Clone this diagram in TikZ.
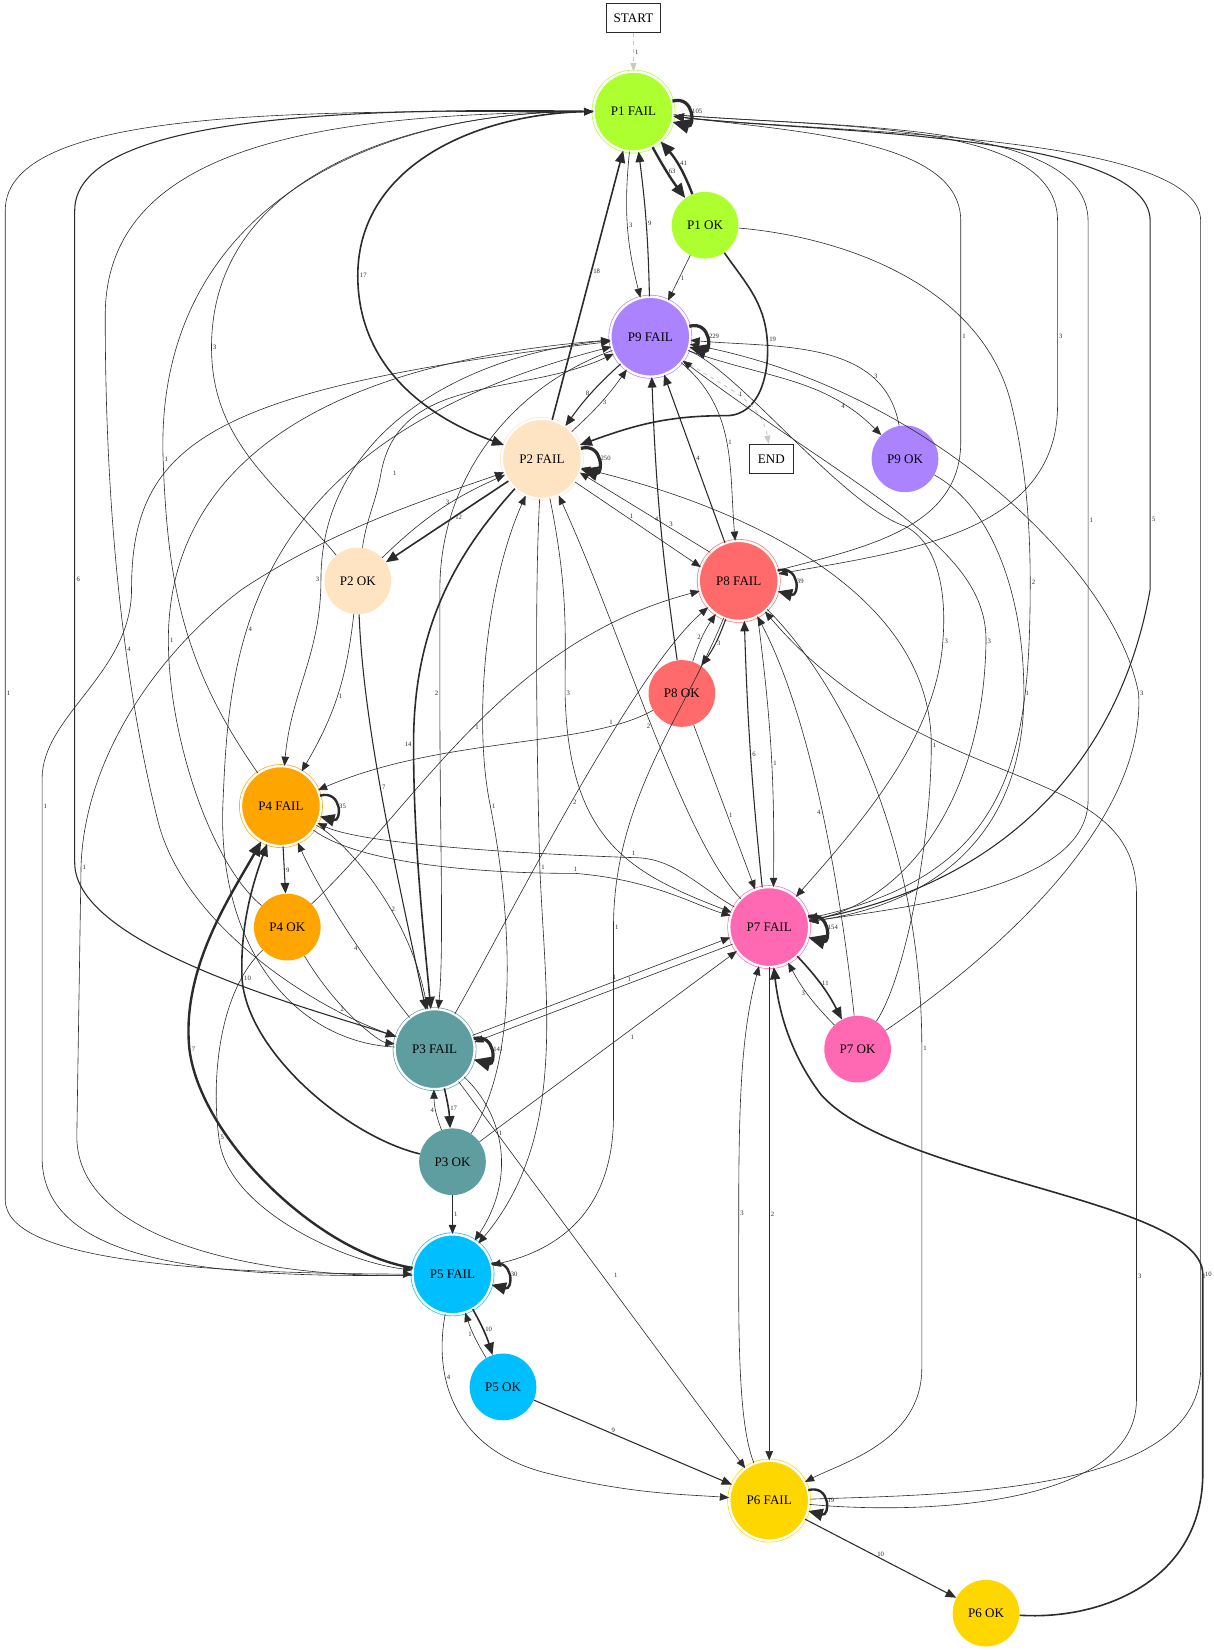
\documentclass[tikz,border=0pt]{standalone}
\usepackage{fontspec}
\setmainfont{Liberation Serif}
\usepackage{tikz}
\usetikzlibrary{arrows.meta,positioning}

\definecolor{pone}{HTML}{ADFF2F}
\definecolor{ptwo}{HTML}{FFE4C4}
\definecolor{pthree}{HTML}{5F9EA0}
\definecolor{pfour}{HTML}{FFA500}
\definecolor{pfive}{HTML}{00BFFF}
\definecolor{psix}{HTML}{FFD700}
\definecolor{pseven}{HTML}{FF69B4}
\definecolor{peight}{HTML}{FF6A6A}
\definecolor{pnine}{HTML}{AB82FF}
\definecolor{edgec}{HTML}{2B2B2B}
\definecolor{ghostc}{HTML}{C8C8C8}

\begin{document}
\begin{tikzpicture}[x=0.789pt, y=0.789pt,
    every node/.style={font=\fontsize{9.8}{11}\selectfont},
    fail/.style={circle, fill=#1, draw=#1, double=white, double distance=1.8pt,
      line width=0.5pt, minimum size=60pt, inner sep=0pt},
    ok/.style={circle, fill=#1, minimum size=50pt, inner sep=0pt},
    term/.style={draw=edgec, line width=0.6pt, minimum height=22pt, inner sep=2pt},
    lbl/.style={font=\fontsize{5}{6}\selectfont, text=edgec, inner sep=1pt},
    e/.style={draw=edgec, line width=0.45pt, -{Triangle[length=5.5pt 3, width=4.5pt 2.5]}},
    em/.style={e, line width=0.8pt},
    eb/.style={e, line width=1.2pt},
    eh/.style={e, line width=1.8pt},
    eloop/.style={e, line width=2.4pt},
    ghost/.style={draw=ghostc, dashed, line width=0.6pt, -{Triangle[length=6pt, width=4.5pt]}}
  ]
  \fill[white] (0,0) rectangle (1153,-1568);
  \useasboundingbox (0,0) rectangle (1153,-1568);

  % states
  \node[term, minimum width=40pt] (start) at (602,-17) {START};
  \node[fail=pone] (p1f) at (602,-106) {P1 FAIL};
  \node[ok=pone] (p1ok) at (670,-214) {P1 OK};
  \node[fail=pnine] (p9f) at (618,-320) {P9 FAIL};
  \node[ok=pnine] (p9ok) at (860,-436) {P9 OK};
  \node[term, minimum width=33pt] (endb) at (733,-436) {END};
  \node[fail=ptwo] (p2f) at (515,-436) {P2 FAIL};
  \node[ok=ptwo] (p2ok) at (340,-552) {P2 OK};
  \node[fail=peight] (p8f) at (702,-552) {P8 FAIL};
  \node[ok=peight] (p8ok) at (648,-659) {P8 OK};
  \node[fail=pfour] (p4f) at (267,-766) {P4 FAIL};
  \node[ok=pfour] (p4ok) at (273,-881) {P4 OK};
  \node[fail=pseven] (p7f) at (731,-881) {P7 FAIL};
  \node[fail=pthree] (p3f) at (413,-997) {P3 FAIL};
  \node[ok=pseven] (p7ok) at (815,-997) {P7 OK};
  \node[ok=pthree] (p3ok) at (430,-1104) {P3 OK};
  \node[fail=pfive] (p5f) at (430,-1211) {P5 FAIL};
  \node[ok=pfive] (p5ok) at (478,-1318) {P5 OK};
  \node[fail=psix] (p6f) at (731,-1426) {P6 FAIL};
  \node[ok=psix] (p6ok) at (937,-1533) {P6 OK};

  % self loops
  \draw[eloop] (p1f.15) .. controls +(15:22) and +(-15:22) .. node[lbl,right]{105} (p1f.-15);
  \draw[eloop] (p9f.15) .. controls +(15:22) and +(-15:22) .. node[lbl,right]{229} (p9f.-15);
  \draw[eloop] (p2f.15) .. controls +(15:22) and +(-15:22) .. node[lbl,right]{250} (p2f.-15);
  \draw[eh] (p8f.15) .. controls +(15:22) and +(-15:22) .. node[lbl,right]{39} (p8f.-15);
  \draw[eh] (p4f.15) .. controls +(15:22) and +(-15:22) .. node[lbl,right]{35} (p4f.-15);
  \draw[eloop] (p7f.15) .. controls +(15:22) and +(-15:22) .. node[lbl,right]{154} (p7f.-15);
  \draw[eloop] (p3f.15) .. controls +(15:22) and +(-15:22) .. node[lbl,right]{141} (p3f.-15);
  \draw[eh] (p5f.15) .. controls +(15:22) and +(-15:22) .. node[lbl,right]{30} (p5f.-15);
  \draw[eh] (p6f.15) .. controls +(15:22) and +(-15:22) .. node[lbl,right]{19} (p6f.-15);

  % top part
  \draw[ghost] (start) -- node[lbl,right]{1} (p1f);
  \draw[eh] (p1f) to[bend right=4] node[lbl,right,pos=.45]{63} (p1ok);
  \draw[eh] (p1ok) to[bend right=10] node[lbl,right,pos=.55]{41} (p1f);
  \draw[e] (p1f) to[bend right=10] node[lbl,right]{3} (p9f);
  \draw[em] (p9f) to[bend right=3] node[lbl,right]{9} (p1f);
  \draw[eb] (p2f) -- node[lbl,right,pos=.55]{18} (p1f);
  \draw[eb] (p1f) to[out=180,in=90] (340,-262) node[lbl,right]{17} to[out=-90,in=160] (p2f);
  \draw[e] (p1ok) -- node[lbl,right]{1} (p9f);
  \draw[eb] (p1ok) to[out=-55,in=95] (729,-322) node[lbl,right]{19} to[out=-85,in=0] (690,-395) to[out=180,in=20] (p2f);
  \draw[e] (p2ok) to[out=130,in=-90] (201,-330) node[lbl,right]{3} to[out=90,in=180] (p1f);
  \draw[e] (p8f) to[out=15,in=-90] (913,-420) -- (913,-320) node[lbl,right]{1} -- (913,-210) .. controls (913,-135) and (770,-126) .. (p1f);
  \draw[e] (p1f) .. controls (800,-122) and (1005,-115) .. (1005,-210) -- (1005,-320) node[lbl,right]{3} -- (1005,-385) to[out=-90,in=10] (p8f);
  \draw[e] (p1f) .. controls (800,-122) and (1034,-115) .. (1034,-210) -- (1034,-494) node[lbl,right]{1} -- (1034,-760) .. controls (1034,-840) and (880,-860) .. (p7f);
  \draw[em] (p7f) to[out=10,in=-100] (1093,-560) -- (1093,-494) node[lbl,right]{5} -- (1093,-210) .. controls (1093,-125) and (770,-126) .. (p1f);
  \draw[e] (p6f) .. controls (900,-1420) and (1141,-1420) .. (1141,-1300) -- (1141,-1213) node[lbl,right]{1} -- (1141,-210) .. controls (1141,-125) and (770,-126) .. (p1f);
  \draw[e] (p1ok) .. controls (800,-225) and (930,-270) .. (960,-380) .. controls (975,-440) and (979,-500) .. (979,-553) node[lbl,right]{2} .. controls (979,-720) and (960,-830) .. (p7f);

  % P9
  \draw[e] (p9f) to[out=-20,in=135] node[lbl,left,pos=.8]{4} (p9ok);
  \draw[e] (p9ok) to[out=100,in=-5] node[lbl,right,pos=.25]{3} (p9f);
  \draw[ghost] (p9f) to[out=-35,in=100] node[lbl,right,pos=.5]{1} (endb);
  \draw[em] (p9f) to[bend right=6] node[lbl,left]{8} (p2f);
  \draw[e] (p2f) to[bend right=6] node[lbl,right]{3} (p9f);
  \draw[e] (p2ok) to[out=82,in=-100] (362,-450) node[lbl,right=8pt]{1} to[out=80,in=205] (p9f);
  \draw[em] (p8f) -- node[lbl,right]{4} (p9f);
  \draw[e] (p9f) to[out=-40,in=95] node[lbl,right,pos=.5]{1} (p8f);
  \draw[em] (p8ok) to[bend left=3] node[lbl,left,pos=.5]{4} (p9f);
  \draw[e] (p9f) to[out=185,in=90] (305,-551) node[lbl,left]{3} to[out=-90,in=85] (p4f);
  \draw[e] (p9f) .. controls (480,-370) and (418,-460) .. (418,-560) -- (418,-659) node[lbl,left]{2} .. controls (418,-800) and (422,-900) .. (p3f);
  \draw[e] (p9f) .. controls (700,-350) and (800,-480) .. (860,-500) .. controls (890,-515) and (900,-560) .. (896,-609) node[lbl,right]{3} .. controls (890,-700) and (820,-780) .. (p7f);
  \draw[e] (p7f) .. controls (860,-860) and (935,-760) .. (937,-609) node[lbl,right]{3} .. controls (938,-520) and (820,-470) .. (p9f);
  \draw[e] (p9ok) .. controls (940,-480) and (973,-560) .. (973,-659) node[lbl,right]{1} .. controls (973,-800) and (880,-860) .. (p7f);
  \draw[e] (p7ok) .. controls (900,-940) and (1090,-800) .. (1082,-659) node[lbl,right]{3} .. controls (1060,-540) and (880,-370) .. (p9f);
  \draw[e] (p4ok) .. controls (200,-820) and (160,-700) .. (160,-608) node[lbl,right]{1} .. controls (160,-480) and (250,-350) .. (p9f);
  \draw[e] (p3f) .. controls (280,-990) and (205,-900) .. (212,-760) .. controls (218,-620) and (230,-420) .. node[lbl,right,pos=.35]{4} (p9f);
  \draw[e] (p5f) .. controls (200,-1215) and (40,-1200) .. (40,-1100) -- (40,-766) node[lbl,right]{1} -- (40,-740) .. controls (40,-680) and (125,-640) .. (125,-560) .. controls (125,-420) and (200,-370) .. (p9f);

  % P2
  \draw[e] (p2ok) to[bend left=10] node[lbl,left,pos=.6]{3} (p2f);
  \draw[eb] (p2f) -- node[lbl,right,pos=.45]{12} (p2ok);
  \draw[e] (p2f.-35) -- node[lbl,above,pos=.45]{1} (p8f.160);
  \draw[e] (p8f.135) -- node[lbl,above,pos=.3]{3} (p2f.-20);
  \draw[e] (p4f) to[out=125,in=-88] (155,-436) node[lbl,right]{1} to[out=92,in=180,looseness=1.1] (p1f);
  \draw[e] (p2ok) to[bend left=12] node[lbl,right,pos=.5]{1} (p4f);
  \draw[eb] (p2f) .. controls (430,-530) and (393,-600) .. (393,-707) node[lbl,left]{14} .. controls (393,-800) and (402,-880) .. (p3f);
  \draw[em] (p2ok) .. controls (345,-680) and (370,-800) .. node[lbl,right,pos=.5]{7} (p3f);
  \draw[e] (p3ok) .. controls (492,-1010) and (488,-880) .. (466,-766) node[lbl,right]{1} .. controls (450,-690) and (460,-560) .. (p2f);
  \draw[e] (p2f) .. controls (508,-560) and (510,-720) .. (513,-824) node[lbl,right]{1} .. controls (518,-950) and (540,-1080) .. (p5f);
  \draw[e] (p2f) .. controls (540,-560) and (537,-600) .. (537,-659) node[lbl,right]{3} .. controls (540,-800) and (600,-830) .. (p7f);
  \draw[e] (p7f) .. controls (650,-800) and (590,-600) .. node[lbl,left,pos=.5]{2} (p2f);
  \draw[e] (p7ok) .. controls (860,-930) and (885,-800) .. (885,-708) node[lbl,right]{1} .. controls (885,-560) and (700,-480) .. (p2f);
  \draw[e] (p5f) .. controls (250,-1215) and (73,-1180) .. (73,-1080) -- (77,-824) node[lbl,right]{1} .. controls (80,-720) and (150,-620) .. (230,-560) .. controls (320,-500) and (420,-470) .. (p2f);

  % P8
  \draw[em] (p8f) to[bend left=8] node[lbl,right]{3} (p8ok);
  \draw[e] (p8ok) to[bend left=8] node[lbl,left]{2} (p8f);
  \draw[em] (p7f.100) to[bend left=2] node[lbl,right,pos=.5]{6} (p8f.-82);
  \draw[e] (p8f.-62) to[bend left=4] node[lbl,right,pos=.55]{1} (p7f.84);
  \draw[e] (p8ok) .. controls (560,-710) and (420,-700) .. node[lbl,above,pos=.18]{1} (p4f);
  \draw[e] (p8ok) -- node[lbl,right,pos=.55]{1} (p7f);
  \draw[e] (p4ok) .. controls (400,-760) and (480,-610) .. node[lbl,right,pos=.5]{1} (p8f);
  \draw[e] (p3f) .. controls (480,-880) and (600,-640) .. node[lbl,right,pos=.5]{2} (p8f);
  \draw[e] (p7ok) .. controls (805,-900) and (780,-700) .. node[lbl,left,pos=.55]{4} (p8f);
  \draw[e] (p8f) .. controls (650,-680) and (583,-760) .. (583,-881) node[lbl,right]{1} -- (583,-1060) .. controls (583,-1160) and (520,-1190) .. (p5f);
  \draw[e] (p8f) .. controls (800,-650) and (876,-800) .. (876,-996) node[lbl,right]{1} -- (876,-1300) .. controls (876,-1370) and (800,-1390) .. (p6f);
  \draw[e] (p6f) .. controls (880,-1440) and (1080,-1430) .. (1080,-1330) -- (1080,-1213) node[lbl,right]{3} -- (1080,-850) .. controls (1080,-720) and (880,-760) .. (p8f);

  % P4
  \draw[em] (p4f) -- node[lbl,right]{9} (p4ok);
  \draw[e] (p4f) .. controls (330,-800) and (390,-870) .. node[lbl,right,pos=.6]{2} (p3f);
  \draw[e] (p3f) .. controls (360,-930) and (310,-860) .. node[lbl,left,pos=.45]{4} (p4f);
  \draw[e] (p4ok) .. controls (320,-960) and (360,-990) .. node[lbl,left,pos=.4]{2} (p3f);
  \draw[e] (p4f) .. controls (340,-820) and (450,-830) .. (547,-830) node[lbl,above]{1} .. controls (620,-836) and (660,-860) .. (p7f);
  \draw[e] (p7f) .. controls (660,-840) and (640,-815) .. (602,-815) node[lbl,above]{1} .. controls (460,-810) and (340,-800) .. (p4f);
  \draw[e] (p4ok) .. controls (210,-940) and (200,-1020) .. (208,-1081) node[lbl,right]{5} .. controls (215,-1150) and (330,-1200) .. (p5f);
  \draw[eh] (p5f) .. controls (300,-1190) and (190,-1080) .. (180,-997) node[lbl,right]{7} .. controls (172,-920) and (220,-850) .. (p4f);
  \draw[eb] (p3ok) .. controls (330,-1080) and (235,-1000) .. (230,-930) node[lbl,right]{10} .. controls (228,-880) and (240,-840) .. (p4f);

  % P1 and P3 on the far left
  \draw[em] (p1f) .. controls (400,-104) and (71,-100) .. (71,-200) -- (71,-551) node[lbl,right]{6} -- (71,-820) .. controls (71,-900) and (300,-960) .. (p3f);
  \draw[e] (p3f) .. controls (300,-960) and (175,-880) .. (150,-780) .. controls (120,-660) and (100,-500) .. node[lbl,right,pos=.4]{4} (100,-300) .. controls (100,-140) and (300,-108) .. (p1f);
  \draw[e] (p1f) .. controls (300,-106) and (5,-100) .. (5,-200) -- (5,-659) node[lbl,right]{1} -- (5,-1140) .. controls (5,-1200) and (200,-1210) .. (p5f);

  % P3 and P7
  \draw[eb] (p3f) to[bend left=5] node[lbl,right]{17} (p3ok);
  \draw[e] (p3ok) to[bend left=10] node[lbl,left]{4} (p3f);
  \draw[e] (p3ok) -- node[lbl,right]{1} (p5f);
  \draw[e] (p3f) .. controls (480,-1060) and (490,-1120) .. node[lbl,right,pos=.4]{1} (p5f);
  \draw[e] (p3f) -- node[lbl,right=8pt]{1} (p6f);
  \draw[e] (p3ok) -- node[lbl,right=6pt,pos=.55]{1} (p7f);
  \draw[e] (p3f.20) -- node[lbl,above,pos=.55]{1} (p7f.195);
  \draw[e] (p7f.205) -- node[lbl,above,pos=.4]{1} (p3f.10);
  \draw[eb] (p7f) to[bend left=8] node[lbl,right,pos=.45]{11} (p7ok);
  \draw[e] (p7ok) to[bend left=8] node[lbl,left,pos=.55]{3} (p7f);

  % bottom
  \draw[eb] (p5f) to[bend left=6] node[lbl,right,pos=.45]{10} (p5ok);
  \draw[e] (p5ok) to[bend left=6] node[lbl,left,pos=.55]{1} (p5f);
  \draw[e] (p5f) .. controls (410,-1320) and (440,-1380) .. node[lbl,right,pos=.3]{4} (520,-1400) .. controls (600,-1420) and (650,-1420) .. (p6f);
  \draw[em] (p5ok) -- node[lbl,above,pos=.4]{9} (p6f);
  \draw[em] (p6f) -- node[lbl,above,pos=.5]{10} (p6ok);
  \draw[e] (p7f) -- node[lbl,right,pos=.5]{2} (p6f);
  \draw[e] (p6f) .. controls (700,-1350) and (702,-1250) .. (702,-1153) node[lbl,right]{3} .. controls (702,-1040) and (705,-980) .. (p7f);
  \draw[eb] (p6ok) .. controls (1050,-1540) and (1143,-1500) .. (1143,-1400) -- (1143,-1211) node[lbl,right]{10} .. controls (1143,-1140) and (850,-1120) .. (780,-1040) .. controls (750,-1000) and (740,-960) .. (p7f);
\end{tikzpicture}
\end{document}
